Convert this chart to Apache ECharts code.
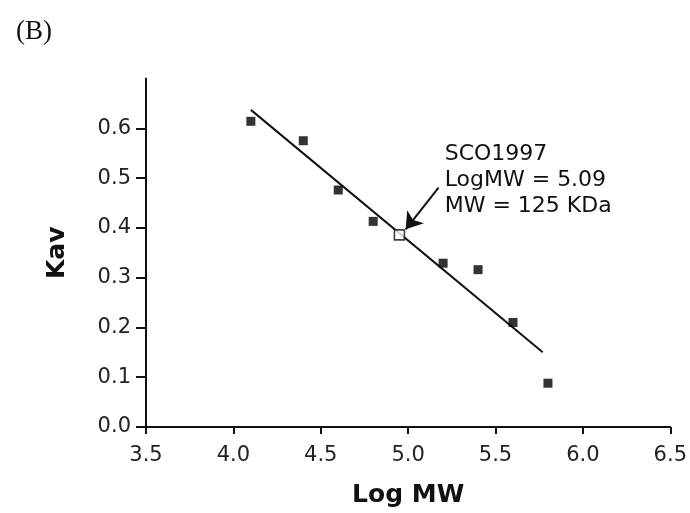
<!DOCTYPE html>
<html>
<head>
<meta charset="utf-8">
<script src="https://cdn.jsdelivr.net/npm/echarts@6/dist/echarts.min.js"></script>
<style>html,body{margin:0;padding:0;background:#fff;}#c{width:690px;height:513px;}</style>
</head>
<body>
<div id="c"></div>
<script>
// Standards (filled squares)
const logMW = [4.1, 4.4, 4.6, 4.8, 5.2, 5.4, 5.6, 5.8];
const kav   = [0.614, 0.575, 0.476, 0.413, 0.329, 0.316, 0.210, 0.088];
// Fitted line end points
const fitX = [4.1, 5.77];
const fitY = [0.637, 0.150];
// Unknown sample (open square)
const sampleX = [4.95];
const sampleY = [0.386];
const sampleText = ['SCO1997', 'LogMW = 5.09', 'MW = 125 KDa'];
// annotation anchor and arrow in data units
const labelAt = [5.209, 0.495];
const arrowFrom = [5.174, 0.481];
const arrowTo = [4.986, 0.397];
// Axis ticks
const xTicks = [3.5, 4.0, 4.5, 5.0, 5.5, 6.0, 6.5];
const yTicks = [0.0, 0.1, 0.2, 0.3, 0.4, 0.5, 0.6];

const font = 'DejaVu Sans';
const chart = echarts.init(document.getElementById('c'), null, {renderer: 'canvas'});
chart.setOption({
  animation: false,
  backgroundColor: '#ffffff',
  title: {
    text: '(B)', left: 11, top: 13,
    textStyle: {fontFamily: 'Liberation Serif', fontSize: 27, fontWeight: 'normal', color: '#111'}
  },
  grid: {left: 146, right: 19, top: 78.5, bottom: 84.5},
  xAxis: {
    type: 'value', min: 3.5, max: 6.5, interval: 0.5,
    name: 'Log MW', nameLocation: 'middle', nameGap: 56,
    nameTextStyle: {fontFamily: font, fontSize: 25, fontWeight: 'bold', color: '#111'},
    axisLine: {show: true, onZero: false, lineStyle: {color: '#111', width: 2}},
    axisTick: {show: true, length: 7, lineStyle: {color: '#111', width: 2}, customValues: xTicks},
    axisLabel: {customValues: xTicks, margin: 18, fontFamily: font, fontSize: 21, color: '#222',
      formatter: v => Number(v).toFixed(1)},
    splitLine: {show: false}
  },
  yAxis: {
    type: 'value', min: 0, max: 0.7, interval: 0.1,
    name: 'Kav', nameLocation: 'middle', nameGap: 76,
    nameTextStyle: {fontFamily: font, fontSize: 25, fontWeight: 'bold', color: '#111'},
    axisLine: {show: true, onZero: false, lineStyle: {color: '#111', width: 2}},
    axisTick: {show: true, length: 10, lineStyle: {color: '#111', width: 2}, customValues: yTicks},
    axisLabel: {customValues: yTicks, margin: 15, fontFamily: font, fontSize: 21, color: '#222',
      formatter: v => Number(v).toFixed(1)},
    splitLine: {show: false}
  },
  series: [
    {
      type: 'line', data: fitX.map((x, i) => [x, fitY[i]]),
      showSymbol: false, symbol: 'none',
      lineStyle: {color: '#111', width: 2}, z: 2
    },
    {
      type: 'scatter', data: logMW.map((x, i) => [x, kav[i]]),
      symbol: 'rect', symbolSize: 9, itemStyle: {color: '#000'}, z: 3
    },
    {
      type: 'scatter', data: sampleX.map((x, i) => [x, sampleY[i]]),
      symbol: 'rect', symbolSize: 10,
      itemStyle: {color: '#fff', borderColor: '#111', borderWidth: 1.6}, z: 4,
      markPoint: {
        symbol: 'circle', symbolSize: 0, silent: true,
        data: [{coord: labelAt, value: 0}],
        label: {
          show: true, position: 'right', distance: 0,
          formatter: sampleText.join('\n'),
          fontFamily: font, fontSize: 22, lineHeight: 26, color: '#111', align: 'left'
        }
      },
      markLine: {
        silent: true, symbol: ['none', 'arrow'], symbolSize: 16,
        lineStyle: {color: '#111', width: 2, type: 'solid'},
        label: {show: false},
        data: [[{coord: arrowFrom}, {coord: arrowTo}]]
      }
    }
  ]
});
</script>
</body>
</html>
